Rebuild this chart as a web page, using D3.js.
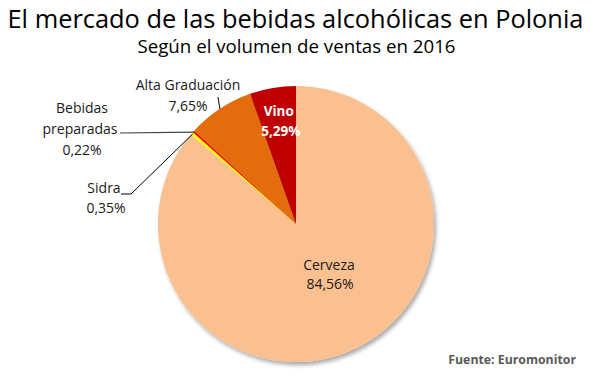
<!DOCTYPE html>
<html><head><meta charset="utf-8">
<script src="https://cdn.jsdelivr.net/npm/d3@7"></script>
<style>body{margin:0;background:#fff}svg{display:block;font-family:"Open Sans",sans-serif}</style>
</head><body><svg id="c" width="591" height="380"></svg>
<script>
const categories = ["Cerveza","Sidra","Bebidas preparadas","Alta Graduación","Vino"];
const values = [84.56, 0.35, 0.22, 7.65, 5.29];
const valueLabels = ["84,56%","0,35%","0,22%","7,65%","5,29%"];
const colors = ["#FAC090","#FFFF00","#FF0000","#E36C0A","#C00000"];

const svg = d3.select("#c");
const cx = 296, cy = 224, R = 138;

svg.append("text").attr("x",295.5).attr("y",28).attr("text-anchor","middle")
  .attr("font-size",25.4).attr("fill","#000").text("El mercado de las bebidas alcohólicas en Polonia");
svg.append("text").attr("x",296.5).attr("y",53).attr("text-anchor","middle")
  .attr("font-size",18.7).attr("fill","#000").text("Según el volumen de ventas en 2016");

const defs = svg.append("defs");
const f = defs.append("filter").attr("id","sh").attr("x","-20%").attr("y","-20%").attr("width","140%").attr("height","140%");
f.append("feGaussianBlur").attr("in","SourceAlpha").attr("stdDeviation",2).attr("result","b");
f.append("feOffset").attr("in","b").attr("dx",2).attr("dy",3).attr("result","o");
f.append("feComponentTransfer").attr("in","o").attr("result","o2").append("feFuncA").attr("type","linear").attr("slope",0.35);
const m = f.append("feMerge"); m.append("feMergeNode").attr("in","o2"); m.append("feMergeNode").attr("in","SourceGraphic");

const data = categories.map((c,i)=>({cat:c, v:values[i], lab:valueLabels[i], col:colors[i]}));
const pie = d3.pie().sort(null).value(d=>d.v);
const arcs = pie(data);
const arc = d3.arc().innerRadius(0).outerRadius(R);
const g = svg.append("g").attr("transform",`translate(${cx},${cy})`);
g.append("g").attr("filter","url(#sh)").selectAll("path").data(arcs).join("path")
  .attr("d",arc).attr("fill",d=>d.data.col);

const edge = (a, r) => { const ang = (a.startAngle+a.endAngle)/2; return [cx + r*Math.sin(ang), cy - r*Math.cos(ang)]; };

// leader lines
const lineColor = "#000";
const pS = edge(arcs[1], R-1), pB = edge(arcs[2], R-1), pA = edge(arcs[3], R);
svg.append("polyline").attr("points",`121,194 131,194 ${pS[0]},${pS[1]}`).attr("fill","none").attr("stroke",lineColor).attr("stroke-width",1);
svg.append("polyline").attr("points",`120,133 ${pB[0]},${pB[1]}`).attr("fill","none").attr("stroke","#404040").attr("stroke-width",1.2);
svg.append("polyline").attr("points",`218,97 ${pA[0]},${pA[1]}`).attr("fill","none").attr("stroke",lineColor).attr("stroke-width",1);

const txt = (x,y,s,opt={}) => svg.append("text").attr("x",x).attr("y",y).attr("text-anchor","middle")
  .attr("font-size",opt.size||14).attr("fill",opt.fill||"#1a1a1a").attr("font-weight",opt.w||"normal").text(s);

// Cerveza (inside)
txt(329,270,categories[0]); txt(330,289,valueLabels[0]);
// Sidra
txt(104,193,categories[1]); txt(106,213,valueLabels[1]);
// Bebidas preparadas
txt(82,113,"Bebidas"); txt(80,134,"preparadas"); txt(82,155,valueLabels[2]);
// Alta Graduación
txt(188,90,categories[3]); txt(188,111,valueLabels[3]);
// Vino (inside)
const pv = edge(arcs[4], R*0.74);
txt(pv[0],pv[1]-7,categories[4],{fill:"#fff",w:"bold",size:13.5}); txt(pv[0]+2,pv[1]+13,valueLabels[4],{fill:"#fff",w:"bold",size:13.5});

svg.append("text").attr("x",576).attr("y",364).attr("text-anchor","end").attr("font-size",12.3)
  .attr("font-weight","bold").attr("fill","#595959").text("Fuente: Euromonitor");
</script></body></html>
